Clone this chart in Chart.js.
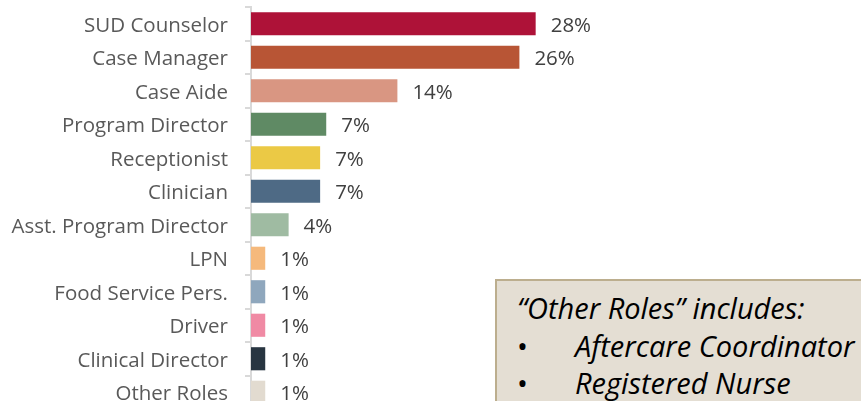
<!DOCTYPE html>
<html>
<head>
<meta charset="utf-8">
<script src="https://cdn.jsdelivr.net/npm/chart.js@4/dist/chart.umd.min.js"></script>
<style>
  html, body { margin: 0; padding: 0; background: #ffffff; overflow: hidden; }
  #wrap { position: relative; width: 861px; height: 409px; }
  #note {
    position: absolute; left: 495px; top: 279px; width: 380px; height: 140px;
    background: #e4ded3; border: 2px solid #bcae8e; box-sizing: border-box;
    font-family: "Open Sans", sans-serif; font-style: italic; font-size: 29px; color: #000;
    line-height: 37.5px; padding: 8px 0 0 20px; white-space: nowrap;
  }
  #note .item { position: relative; padding-left: 58px; }
  #note .item::before { content: "\2022"; font-style: normal; position: absolute; left: 0; }
</style>
</head>
<body>
<div id="wrap">
  <canvas id="graph"></canvas>
  <div id="note">
    <div>“Other Roles” includes:</div>
    <div class="item">Aftercare Coordinator</div>
    <div class="item">Registered Nurse</div>
  </div>
</div>
<script>
const roles = ['SUD Counselor', 'Case Manager', 'Case Aide', 'Program Director', 'Receptionist', 'Clinician',
  'Asst. Program Director', 'LPN', 'Food Service Pers.', 'Driver', 'Clinical Director', 'Other Roles'];
const shares = [28.0, 26.4, 14.4, 7.4, 6.8, 6.8, 3.7, 1.4, 1.4, 1.4, 1.4, 1.4];
const barColors = ['#ae1238', '#b85535', '#d99682', '#5f8a64', '#ebc945', '#4e6a85',
  '#9fbba2', '#f5b97c', '#8fa7bd', '#f08aa4', '#283541', '#e2dbd0'];

// percent labels at the end of each bar
const valueLabels = {
  id: 'valueLabels',
  afterDatasetsDraw(chart) {
    const ctx = chart.ctx;
    const meta = chart.getDatasetMeta(0);
    ctx.save();
    ctx.font = '20.5px "Open Sans"';
    ctx.fillStyle = '#404040';
    ctx.textAlign = 'left';
    ctx.textBaseline = 'middle';
    meta.data.forEach(function (bar, i) {
      ctx.fillText(Math.round(shares[i]) + '%', bar.x + 15, bar.y + 2);
    });
    ctx.restore();
  }
};

let graph = document.getElementById('graph').getContext('2d');
new Chart(graph, {
  type: 'bar',
  data: {
    labels: roles,
    datasets: [{
      data: shares,
      backgroundColor: barColors,
      barPercentage: 0.69,
      categoryPercentage: 1
    }]
  },
  options: {
    indexAxis: 'y',
    responsive: true,
    maintainAspectRatio: false,
    animation: false,
    layout: { padding: { top: 7, right: 0, bottom: 0, left: 0 } },
    plugins: { legend: { display: false }, tooltip: { enabled: false } },
    scales: {
      x: { display: false, min: 0, max: 60 },
      y: {
        afterFit: function (scale) {
          scale.width = 251;
          scale.paddingTop = 0;
          scale.paddingBottom = 0;
        },
        grid: { drawOnChartArea: false, tickLength: 6, color: '#d9d9d9', lineWidth: 2 },
        border: { color: '#d9d9d9', width: 2 },
        ticks: { font: { family: 'Open Sans', size: 20.5 }, color: '#595959', padding: 17, labelOffset: 2, autoSkip: false }
      }
    }
  },
  plugins: [valueLabels]
});
</script>
</body>
</html>
